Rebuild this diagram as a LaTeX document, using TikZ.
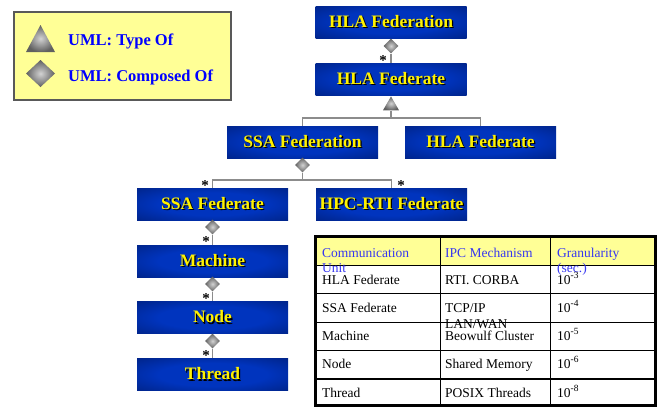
\documentclass[tikz,border=0pt]{standalone}
\usepackage{fontspec}
\setmainfont{Liberation Serif}
\usetikzlibrary{shapes.geometric}

\definecolor{navy}{RGB}{0,24,98}
\definecolor{brightblue}{RGB}{0,52,190}
\definecolor{paleyellow}{RGB}{255,255,150}
\definecolor{linkgray}{RGB}{140,140,140}
\definecolor{headblue}{RGB}{55,55,240}

\pgfdeclareradialshading{boxglow}{\pgfpoint{0bp}{0bp}}{color(0bp)=(brightblue); color(18bp)=(brightblue); color(50bp)=(navy); color(75bp)=(navy)}

\newcommand{\shadowed}[1]{\makebox[0pt][l]{\hspace{1.3pt}\raisebox{-1.3pt}{\color{black}#1}}#1}

\begin{document}
\begin{tikzpicture}[x=1pt, y=-1pt,
  fedbox/.style = {minimum width=151pt, minimum height=32pt, inner sep=0pt,
    shading=boxglow, text=yellow, font=\fontsize{17.5}{20}\selectfont\bfseries},
  composed/.style = {diamond, aspect=1, minimum size=15pt, inner sep=0pt,
    inner color=gray!35, outer color=gray!75!black},
  typeof/.style = {regular polygon, regular polygon sides=3, minimum size=18.5pt,
    inner sep=0pt, inner color=gray!35, outer color=gray!75!black},
  mult/.style = {inner sep=0pt, font=\fontsize{15}{15}\selectfont\bfseries},
  link/.style = {draw=linkgray, line width=1.3pt},
  cell/.style = {anchor=base west, inner sep=0pt, font=\fontsize{13.5}{15}\selectfont},
  head/.style = {cell, text=headblue}]
  \useasboundingbox (0,0) rectangle (657,407);

  % legend
  \filldraw[fill=paleyellow, draw=black!65, line width=2.5pt] (14,12) rectangle (231,100);
  \shade[inner color=gray!35, outer color=gray!75!black] (26,52) -- (40.5,25) -- (55,52) -- cycle;
  \shade[inner color=gray!35, outer color=gray!75!black] (40.5,60) -- (55,73.5) -- (40.5,87) -- (26,73.5) -- cycle;
  \node (ltype) [anchor=base west, inner sep=0pt, text=blue, font=\fontsize{16.5}{18}\selectfont\bfseries] at (68,45) {UML: Type Of};
  \node (lcomp) [anchor=base west, inner sep=0pt, text=blue, font=\fontsize{16.5}{18}\selectfont\bfseries] at (68,81) {UML: Composed Of};

  % class boxes
  \node (hlafedn) [fedbox, shade] at (391,22)    {\shadowed{HLA Federation}};
  \node (hlafedt) [fedbox, shade] at (391,79)    {\shadowed{HLA Federate}};
  \node (ssafedn) [fedbox, shade] at (302.5,142) {\shadowed{SSA Federation}};
  \node (hlafedr) [fedbox, shade] at (480.5,142) {\shadowed{HLA Federate}};
  \node (ssafedt) [fedbox, shade] at (212.5,204) {\shadowed{SSA Federate}};
  \node (hpcrti)  [fedbox, shade] at (391.5,204) {\shadowed{HPC-RTI Federate}};
  \node (machine) [fedbox, shade] at (212.5,261) {\shadowed{Machine}};
  \node (cnode)   [fedbox, shade] at (212.5,317.5) {\shadowed{Node}};
  \node (thread)  [fedbox, shade] at (212.5,374.5) {\shadowed{Thread}};

  % associations
  \coordinate (j1) at (391,118);
  \coordinate (j2) at (302.5,180);
  \node (d1) [composed] at (391,46) {};
  \node (t1) [typeof, anchor=south] at (391,110.5) {};
  \node (d2) [composed] at (302.5,165) {};
  \node (d3) [composed] at (212.5,227) {};
  \node (d4) [composed] at (212.5,284) {};
  \node (d5) [composed] at (212.5,341) {};
  \draw[link] (d1) -- (hlafedt);
  \draw[link] (t1.south) -- (j1);
  \draw[link] (ssafedn.north) |- (j1) -| (hlafedr.north);
  \draw[link] (d2) -- (j2);
  \draw[link] (ssafedt.north) |- (j2) -| (hpcrti.north);
  \draw[link] (d3) -- (machine);
  \draw[link] (d4) -- (cnode);
  \draw[link] (d5) -- (thread);
  \node (s1) [mult] at (383,61) {*};
  \node (s2) [mult] at (205,186) {*};
  \node (s3) [mult] at (401,186) {*};
  \node (s4) [mult] at (206,242) {*};
  \node (s5) [mult] at (206,299) {*};
  \node (s6) [mult] at (206,356) {*};

  % granularity table
  \fill[paleyellow] (315,236) rectangle (655,265);
  \foreach \y in {265,293,322,350}
    \draw[line width=0.8pt] (315,\y) -- (655,\y);
  \draw[line width=1.6pt] (315,379) -- (655,379);
  \draw[line width=0.8pt] (440,236) -- (440,405) (550,236) -- (550,405);
  \draw[line width=3pt] (315,236) rectangle (655,405);

  \node (h1a) [head] at (322,257) {Communication};
  \node (h1b) [head] at (322,272) {Unit};
  \node (h2)  [head] at (445,257) {IPC Mechanism};
  \node (h3a) [head] at (557,257) {Granularity};
  \node (h3b) [head] at (557,272) {(sec.)};

  \node (r1a) [cell] at (322,284) {HLA Federate};
  \node (r1b) [cell] at (445,284) {RTI. CORBA};
  \node (r1c) [cell] at (557,284) {10\textsuperscript{-3}};
  \node (r2a) [cell] at (322,312) {SSA Federate};
  \node (r2b) [cell] at (445,312) {TCP/IP};
  \node (r2c) [cell] at (557,312) {10\textsuperscript{-4}};
  \node (r3a) [cell] at (322,340) {Machine};
  \node (r3l) [cell] at (445,328) {LAN/WAN};
  \node (r3b) [cell] at (445,340) {Beowulf Cluster};
  \node (r3c) [cell] at (557,340) {10\textsuperscript{-5}};
  \node (r4a) [cell] at (322,368) {Node};
  \node (r4b) [cell] at (445,368) {Shared Memory};
  \node (r4c) [cell] at (557,368) {10\textsuperscript{-6}};
  \node (r5a) [cell] at (322,397) {Thread};
  \node (r5b) [cell] at (445,397) {POSIX Threads};
  \node (r5c) [cell] at (557,397) {10\textsuperscript{-8}};
\end{tikzpicture}
\end{document}
